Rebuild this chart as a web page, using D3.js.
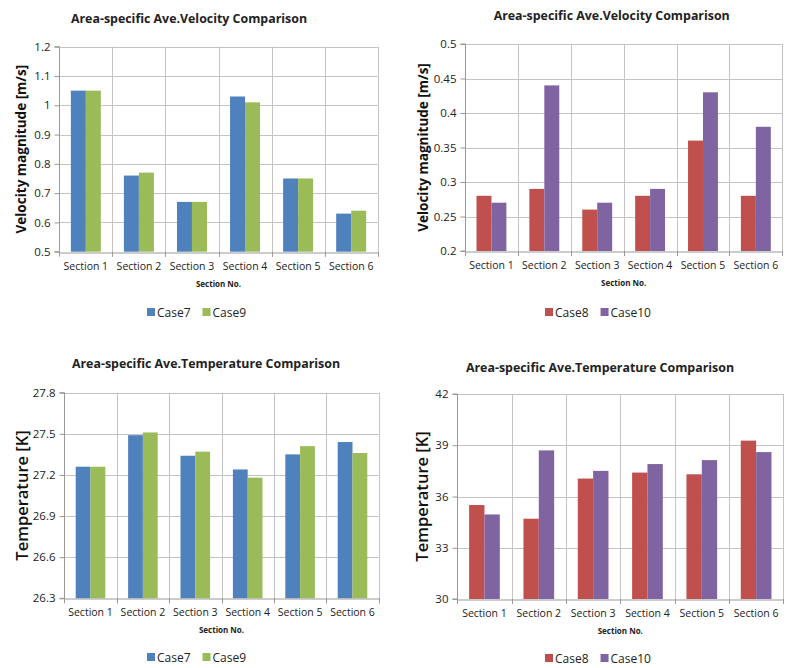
<!DOCTYPE html>
<html>
<head>
<meta charset="utf-8">
<script src="https://cdn.jsdelivr.net/npm/d3@7"></script>
<style>
  body { margin: 0; background: #fff; }
  text { font-family: "Open Sans", "Noto Sans", sans-serif; fill: #222; }
</style>
</head>
<body>
<div id="chart"></div>
<script>
// data
let sections = ['Section 1', 'Section 2', 'Section 3', 'Section 4', 'Section 5', 'Section 6'];

let velCase7 = [1.05, 0.76, 0.67, 1.03, 0.75, 0.63];
let velCase9 = [1.05, 0.77, 0.67, 1.01, 0.75, 0.64];
let velTicks = [0.5, 0.6, 0.7, 0.8, 0.9, 1, 1.1, 1.2];

let velCase8 = [0.28, 0.29, 0.26, 0.28, 0.36, 0.28];
let velCase10 = [0.27, 0.44, 0.27, 0.29, 0.43, 0.38];
let velTicks2 = [0.2, 0.25, 0.3, 0.35, 0.4, 0.45, 0.5];

let tempCase7 = [27.26, 27.49, 27.34, 27.24, 27.35, 27.44];
let tempCase9 = [27.26, 27.51, 27.37, 27.18, 27.41, 27.36];
let tempTicks = [26.3, 26.6, 26.9, 27.2, 27.5, 27.8];

let tempCase8 = [35.5, 34.7, 37.05, 37.4, 37.3, 39.27];
let tempCase10 = [34.95, 38.7, 37.5, 37.9, 38.13, 38.6];
let tempTicks2 = [30, 33, 36, 39, 42];

let colors = {Case7: '#4f81bd', Case9: '#9bbb59', Case8: '#c0504d', Case10: '#8064a2'};

let svg = d3.select('#chart').append('svg').attr('width', 793).attr('height', 668);

let drawPanel = function(p){
  let g = svg.append('g');
  let x = d3.scaleBand().domain(sections).range([p.left, p.right]).padding(0);
  let y = d3.scaleLinear().domain([p.ticks[0], p.ticks[p.ticks.length - 1]]).range([p.bottom, p.top]);
  let inner = d3.scaleBand().domain(p.names).range([0, x.bandwidth()]).paddingOuter(0.77).paddingInner(0);

  // horizontal grid
  g.append('g').selectAll('line').data(p.ticks.slice(1)).enter().append('line')
    .attr('x1', p.left).attr('x2', p.right)
    .attr('y1', d => Math.round(y(d)) + 0.5).attr('y2', d => Math.round(y(d)) + 0.5)
    .attr('stroke', '#c4c4c4').attr('stroke-width', 1);
  // vertical grid at category borders
  let borders = sections.map(s => x(s)).concat([p.right]);
  g.append('g').selectAll('line').data(borders.slice(1)).enter().append('line')
    .attr('x1', d => Math.round(d) + 0.5).attr('x2', d => Math.round(d) + 0.5)
    .attr('y1', p.top).attr('y2', p.bottom + 5)
    .attr('stroke', '#c4c4c4').attr('stroke-width', 1);

  // bars
  p.names.forEach((name, k) => {
    g.append('g').selectAll('rect').data(p.series[k]).enter().append('rect')
      .attr('x', (d, i) => x(sections[i]) + inner(name))
      .attr('width', inner.bandwidth())
      .attr('y', d => y(d))
      .attr('height', d => p.bottom - y(d))
      .attr('fill', colors[name]);
  });

  // y axis
  let yAxis = d3.axisLeft(y).tickValues(p.ticks).tickSize(5).tickPadding(4).tickFormat(d => d3.format('')(+d.toFixed(2)));
  let ya = g.append('g').attr('transform', 'translate(' + (Math.round(p.left) + 0.5) + ',0)').call(yAxis);
  ya.select('.domain').attr('stroke', '#999').attr('d', 'M-5,' + p.top + 'H0V' + p.bottom + 'H-5');
  ya.selectAll('.tick line').attr('stroke', '#999');
  ya.selectAll('.tick text').style('font-size', '11.5px').attr('fill', '#222');

  // x axis
  let xa = g.append('g').attr('transform', 'translate(0,' + (Math.round(p.bottom) + 0.5) + ')')
    .call(d3.axisBottom(x).tickSize(0).tickPadding(10));
  xa.select('.domain').attr('stroke', '#999');
  xa.selectAll('.tick text').style('font-size', '10.5px').attr('fill', '#222');
  g.append('g').selectAll('line').data(borders).enter().append('line')
    .attr('x1', d => Math.round(d) + 0.5).attr('x2', d => Math.round(d) + 0.5)
    .attr('y1', p.bottom).attr('y2', p.bottom + 5).attr('stroke', '#999');

  // titles
  g.append('text').attr('x', p.titleX).attr('y', p.titleY).attr('text-anchor', 'middle')
    .style('font-size', '12.4px').style('font-weight', 'bold').text(p.title);
  g.append('text').attr('x', (p.left + p.right) / 2).attr('y', p.bottom + 35).attr('text-anchor', 'middle')
    .style('font-size', '8px').style('font-weight', 'bold').text('Section No.');
  g.append('text').attr('transform', 'translate(' + p.yTitleX + ',' + ((p.top + p.bottom) / 2) + ') rotate(-90)')
    .attr('text-anchor', 'middle').style('font-size', p.yTitleSize).style('font-weight', p.yTitleWeight)
    .style('fill', '#111').text(p.yTitle);

  // legend
  let lg = g.append('g').attr('transform', 'translate(' + p.legendX + ',' + p.legendY + ')');
  let offset = 0;
  p.names.forEach(name => {
    lg.append('rect').attr('x', offset).attr('y', -4).attr('width', 8).attr('height', 8).attr('fill', colors[name]);
    let t = lg.append('text').attr('x', offset + 10).attr('y', 4.5).style('font-size', '12px').text(name);
    offset += 10 + t.node().getComputedTextLength() + 12;
  });
};

drawPanel({
  title: 'Area-specific Ave.Velocity Comparison', yTitle: 'Velocity magnitude [m/s]',
  yTitleSize: '13.5px', yTitleWeight: 'bold',
  names: ['Case7', 'Case9'], series: [velCase7, velCase9], ticks: velTicks,
  left: 59.3, right: 377.7, top: 46.7, bottom: 251.7,
  titleX: 189, titleY: 23, yTitleX: 26, legendX: 147, legendY: 312
});
drawPanel({
  title: 'Area-specific Ave.Velocity Comparison', yTitle: 'Velocity magnitude [m/s]',
  yTitleSize: '13.5px', yTitleWeight: 'bold',
  names: ['Case8', 'Case10'], series: [velCase8, velCase10], ticks: velTicks2,
  left: 465, right: 782.3, top: 44, bottom: 251,
  titleX: 611.7, titleY: 20, yTitleX: 428, legendX: 545, legendY: 312
});
drawPanel({
  title: 'Area-specific Ave.Temperature Comparison', yTitle: 'Temperature  [K]',
  yTitleSize: '16.5px', yTitleWeight: 600,
  names: ['Case7', 'Case9'], series: [tempCase7, tempCase9], ticks: tempTicks,
  left: 64.3, right: 378.7, top: 392.7, bottom: 598.3,
  titleX: 206, titleY: 368, yTitleX: 28, legendX: 147, legendY: 657
});
drawPanel({
  title: 'Area-specific Ave.Temperature Comparison', yTitle: 'Temperature [K]',
  yTitleSize: '16.5px', yTitleWeight: 600,
  names: ['Case8', 'Case10'], series: [tempCase8, tempCase10], ticks: tempTicks2,
  left: 457.3, right: 783.3, top: 394, bottom: 599,
  titleX: 600, titleY: 372, yTitleX: 428, legendX: 545, legendY: 658
});
</script>
</body>
</html>
